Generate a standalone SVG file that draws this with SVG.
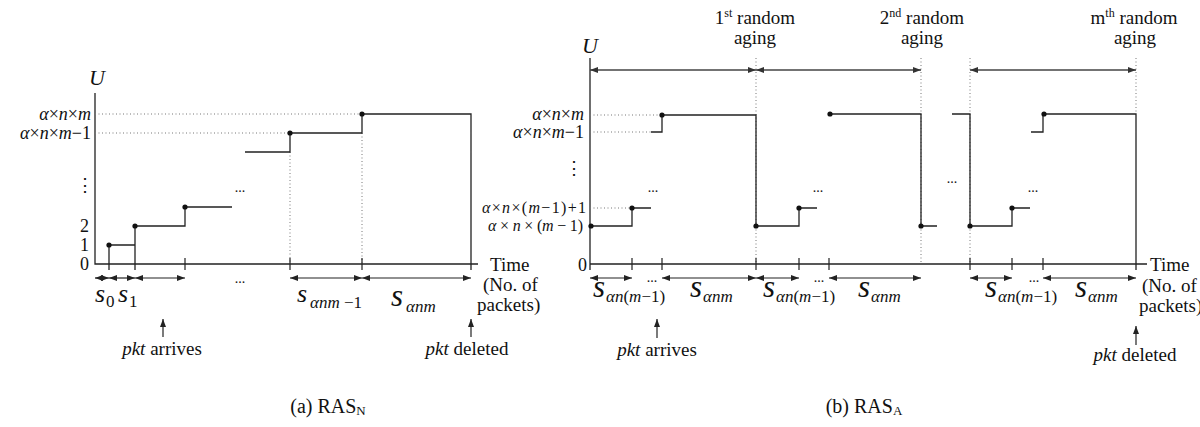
<svg xmlns="http://www.w3.org/2000/svg" width="1200" height="427" viewBox="0 0 1200 427">
<style>
.ln{stroke:#222;stroke-width:1.3;fill:none}
.tk{stroke:#222;stroke-width:1.2;fill:none}
.dt{stroke:#777;stroke-width:1;stroke-dasharray:1 2.5;fill:none}
.ar{stroke:#222;stroke-width:1.2;fill:none;marker-start:url(#ah);marker-end:url(#ah)}
.tar{stroke:#444;stroke-width:1.6;fill:none;marker-start:url(#ah2);marker-end:url(#ah2)}
.up{stroke:#222;stroke-width:1.2;fill:none;marker-end:url(#ah)}
.dot{fill:#111}
text{font-family:"Liberation Serif","DejaVu Serif",serif;fill:#111}
.i{font-style:italic}
.lb{font-size:19px}
.yl{font-size:18px}
.sm{font-size:16px}
.s1{font-size:26px;font-style:italic}
.s2{font-size:31px;font-style:italic}
.sub{font-size:17px}
.dd{font-size:14px}
</style>
<defs>
<marker id="ah" viewBox="0 0 8 6" refX="8" refY="3" markerWidth="8" markerHeight="6" markerUnits="userSpaceOnUse" orient="auto-start-reverse"><path d="M0,0 L8,3 L0,6 z" fill="#222"/></marker>
<marker id="ah2" viewBox="0 0 8 6" refX="8" refY="3" markerWidth="8" markerHeight="6" markerUnits="userSpaceOnUse" orient="auto-start-reverse"><path d="M0,0 L8,3 L0,6 z" fill="#333"/></marker>
</defs>

<!-- Panel (a) -->
<g id="panel-a">
<g id="a-axes">
<path class="ln" d="M95,93 V264 H478"/>
<text class="i" x="97" y="85" font-size="22" text-anchor="middle">U</text>
<text class="yl" x="91" y="120" text-anchor="end"><tspan class="i">α</tspan>×<tspan class="i">n</tspan>×<tspan class="i">m</tspan></text>
<text class="yl" x="91" y="139" text-anchor="end"><tspan class="i">α</tspan>×<tspan class="i">n</tspan>×<tspan class="i">m</tspan>−1</text>
<text x="85" y="191" font-size="18" text-anchor="middle" font-family="DejaVu Serif">⋮</text>
<text class="yl" x="89" y="232" text-anchor="end">2</text>
<text class="yl" x="89" y="251" text-anchor="end">1</text>
<text class="yl" x="89" y="270" text-anchor="end">0</text>
<text class="lb" x="490" y="271">Time</text>
<text class="lb" x="483" y="291">(No. of</text>
<text class="lb" x="477" y="311">packets)</text>
</g>
<g id="a-guides">
<path class="dt" d="M95,114 H362 M95,133 H290 M290,152 V264 M362,133 V264"/>
</g>
<g id="a-steps">
<path class="ln" d="M109,270 V245 H135 M135,270 V226 H185 V207 H232"/>
<path class="ln" d="M245,152 H290 V133 H362 V114 H471 V270"/>
<path class="tk" d="M185,258 V270 M290,258 V270 M362,258 V270"/>
<circle class="dot" cx="109" cy="245" r="2.6"/>
<circle class="dot" cx="135" cy="226" r="2.6"/>
<circle class="dot" cx="185" cy="207" r="2.6"/>
<circle class="dot" cx="290" cy="133" r="2.6"/>
<circle class="dot" cx="362" cy="114" r="2.6"/>
<text class="dd" x="240" y="192" text-anchor="middle">...</text>
</g>
<g id="a-intervals">
<path class="ar" d="M95,278 H109"/>
<path class="ar" d="M109,278 H135"/>
<path class="ar" d="M135,278 H185"/>
<path class="ar" d="M290,278 H362"/>
<path class="ar" d="M362,278 H471"/>
<text class="dd" x="240" y="283" text-anchor="middle">...</text>
<text class="s1" x="95" y="302">s</text><text class="sub" x="106" y="307">0</text>
<text class="s1" x="118" y="302">s</text><text class="sub" x="129" y="307">1</text>
<text class="s1" x="297" y="302">s</text><text class="sub" x="310" y="308"><tspan class="i">αnm</tspan> −1</text>
<text class="s2" x="391" y="306">s</text><text class="sub i" x="406" y="312">αnm</text>
</g>
<g id="a-events">
<path class="up" d="M163,337 V319"/>
<text class="lb" x="162" y="355" text-anchor="middle"><tspan class="i">pkt</tspan> arrives</text>
<path class="up" d="M471,337 V319"/>
<text class="lb" x="467" y="355" text-anchor="middle"><tspan class="i">pkt</tspan> deleted</text>
</g>
<text id="cap-a" x="328" y="413" font-size="20" text-anchor="middle">(a) RAS<tspan font-size="13" dy="2">N</tspan></text>
</g>

<!-- Panel (b) -->
<g id="panel-b">
<g id="b-axes">
<path class="ln" d="M590,58 V270 M590,264 H1147"/>
<text class="i" x="590" y="53" font-size="22" text-anchor="middle">U</text>
<text class="yl" x="584" y="120" text-anchor="end"><tspan class="i">α</tspan>×<tspan class="i">n</tspan>×<tspan class="i">m</tspan></text>
<text class="yl" x="584" y="138" text-anchor="end"><tspan class="i">α</tspan>×<tspan class="i">n</tspan>×<tspan class="i">m</tspan>−1</text>
<text x="574" y="174" font-size="18" text-anchor="middle" font-family="DejaVu Serif">⋮</text>
<text class="sm" x="586" y="213" text-anchor="end" textLength="104" lengthAdjust="spacing"><tspan class="i">α</tspan>×<tspan class="i">n</tspan>×(<tspan class="i">m</tspan>−1)+1</text>
<text class="sm" x="583" y="231" text-anchor="end" textLength="95" lengthAdjust="spacing"><tspan class="i">α</tspan> × <tspan class="i">n</tspan> × (<tspan class="i">m</tspan> − 1)</text>
<text class="yl" x="578" y="271">0</text>
<text class="lb" x="1150" y="271">Time</text>
<text class="lb" x="1142" y="292">(No. of</text>
<text class="lb" x="1139" y="312">packets)</text>
</g>
<g id="b-agings">
<text class="lb" x="755" y="24" text-anchor="middle">1<tspan font-size="12" dy="-7">st</tspan><tspan dy="7"> random</tspan></text>
<text class="lb" x="755" y="44" text-anchor="middle">aging</text>
<text class="lb" x="922" y="24" text-anchor="middle">2<tspan font-size="12" dy="-7">nd</tspan><tspan dy="7"> random</tspan></text>
<text class="lb" x="922" y="44" text-anchor="middle">aging</text>
<text class="lb" x="1134" y="24" text-anchor="middle">m<tspan font-size="12" dy="-7">th</tspan><tspan dy="7"> random</tspan></text>
<text class="lb" x="1135" y="44" text-anchor="middle">aging</text>
<path class="dt" d="M756,58 V264 M921,58 V264 M970,58 V264 M1136,58 V114"/>
<path class="tar" d="M590,70 H756"/>
<path class="tar" d="M756,70 H921"/>
<path class="tar" d="M970,70 H1136"/>
</g>
<g id="b-guides">
<path class="dt" d="M590,115 H662 M590,132 H651 M590,208 H632"/>
</g>
<g id="b-steps">
<path class="ln" d="M590,226 H632 V208 H651"/>
<path class="ln" d="M651,132 H662 V115 H756 V226 H799 V208 H817"/>
<path class="ln" d="M830,114 H921 V226 H937"/>
<path class="ln" d="M952,114 H970 V226 H1012 V208 H1030"/>
<path class="ln" d="M1031,132 H1043 V114 H1136 V270"/>
<path class="tk" d="M632,258 V270 M662,258 V270 M756,258 V270 M799,258 V270 M829,258 V270 M970,258 V270 M1012,258 V270 M1043,258 V270"/>
<circle class="dot" cx="591" cy="226" r="2.6"/>
<circle class="dot" cx="632" cy="208" r="2.6"/>
<circle class="dot" cx="662" cy="115" r="2.6"/>
<circle class="dot" cx="756" cy="226" r="2.6"/>
<circle class="dot" cx="799" cy="208" r="2.6"/>
<circle class="dot" cx="830" cy="114" r="2.6"/>
<circle class="dot" cx="921" cy="226" r="2.6"/>
<circle class="dot" cx="970" cy="226" r="2.6"/>
<circle class="dot" cx="1012" cy="208" r="2.6"/>
<circle class="dot" cx="1044" cy="114" r="2.6"/>
<text class="dd" x="653" y="192" text-anchor="middle">...</text>
<text class="dd" x="818" y="192" text-anchor="middle">...</text>
<text class="dd" x="952" y="183" text-anchor="middle">...</text>
<text class="dd" x="1033" y="192" text-anchor="middle">...</text>
</g>
<g id="b-intervals">
<path class="ar" d="M590,278 H632"/>
<path class="ar" d="M662,278 H756"/>
<path class="ar" d="M756,278 H799"/>
<path class="ar" d="M829,278 H921"/>
<path class="ar" d="M970,278 H1012"/>
<path class="ar" d="M1043,278 H1136"/>
<text class="dd" x="652" y="282" text-anchor="middle">...</text>
<text class="dd" x="819" y="282" text-anchor="middle">...</text>
<text class="dd" x="1034" y="282" text-anchor="middle">...</text>
<text class="s2" x="593" y="297">s</text><text class="sub" x="606" y="302"><tspan class="i">αn</tspan>(<tspan class="i">m</tspan>−1)</text>
<text class="s2" x="690" y="297">s</text><text class="sub i" x="703" y="302">αnm</text>
<text class="s2" x="763" y="297">s</text><text class="sub" x="776" y="302"><tspan class="i">αn</tspan>(<tspan class="i">m</tspan>−1)</text>
<text class="s2" x="858" y="297">s</text><text class="sub i" x="871" y="302">αnm</text>
<text class="s2" x="985" y="297">s</text><text class="sub" x="998" y="302"><tspan class="i">αn</tspan>(<tspan class="i">m</tspan>−1)</text>
<text class="s2" x="1075" y="297">s</text><text class="sub i" x="1088" y="302">αnm</text>
</g>
<g id="b-events">
<path class="up" d="M657,338 V319"/>
<text class="lb" x="657" y="356" text-anchor="middle"><tspan class="i">pkt</tspan> arrives</text>
<path class="up" d="M1136,345 V326"/>
<text class="lb" x="1135" y="361" text-anchor="middle"><tspan class="i">pkt</tspan> deleted</text>
</g>
<text id="cap-b" x="864" y="413" font-size="20" text-anchor="middle">(b) RAS<tspan font-size="13" dy="2">A</tspan></text>
</g>
</svg>
